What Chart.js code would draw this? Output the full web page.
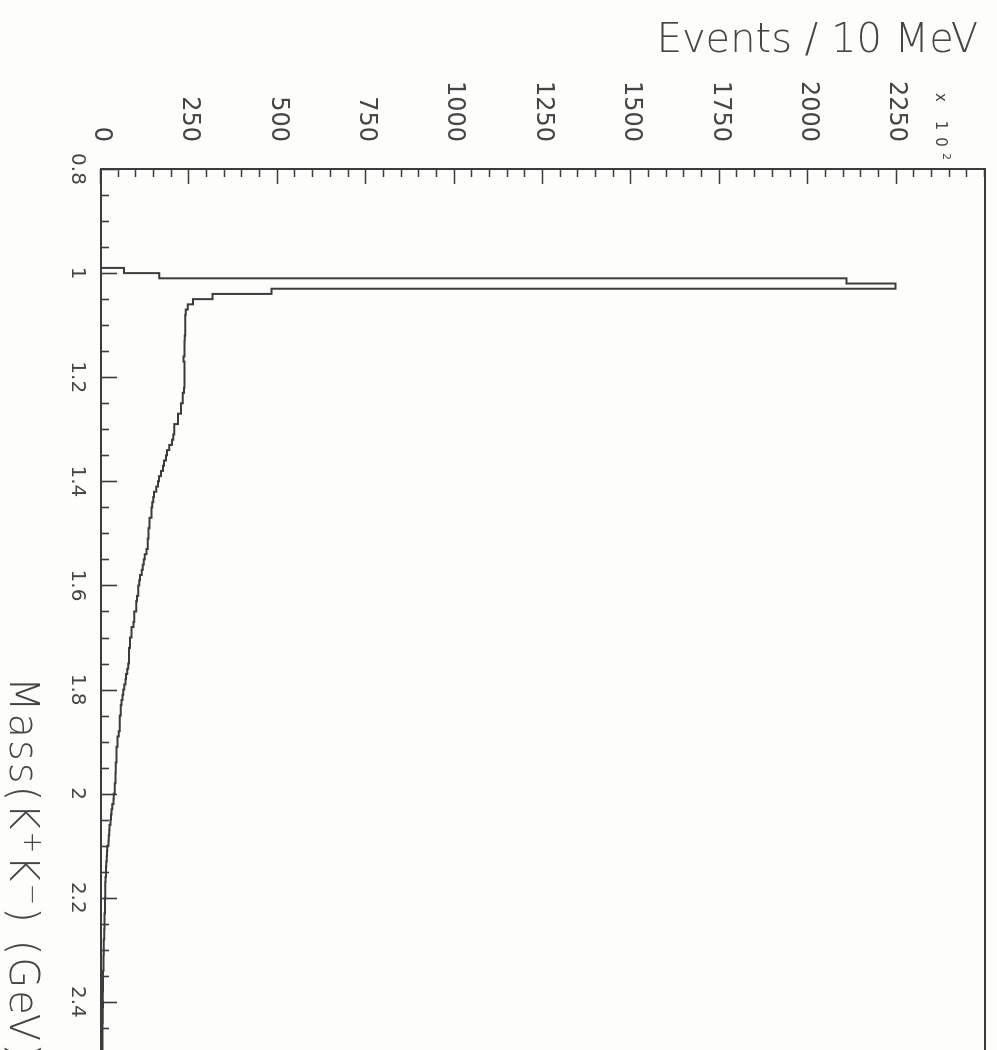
<!DOCTYPE html>
<html>
<head>
<meta charset="utf-8">
<script src="https://cdn.jsdelivr.net/npm/chart.js@4.4.1/dist/chart.umd.min.js"></script>
<style>
  html, body { margin: 0; padding: 0; background: #fdfdfb; overflow: hidden; }
  body { width: 997px; height: 1050px; position: relative; }
  /* plot is laid out with mass along x, then turned a quarter turn clockwise */
  #massPlot {
    position: absolute; left: 0; top: 0;
    transform-origin: 0 0;
    transform: translate(997px, 0) rotate(90deg);
  }
</style>
</head>
<body>
<canvas id="massPlot" width="1100" height="997"></canvas>
<script>
// K+K- invariant mass, 10 MeV bins, first bin starts at 0.99 GeV
const binStart = 0.99;
const binWidth = 0.01;
const events = [
  65, 165, 2108, 2247, 482, 315, 260, 245, 240, 238,
  238, 238, 238, 237, 236, 236, 236, 233, 236, 236,
  236, 236, 236, 235, 231, 231, 226, 226, 218, 218,
  207, 207, 204, 201, 193, 187, 184, 178, 175, 170,
  164, 161, 156, 150, 148, 145, 143, 143, 137, 137,
  134, 134, 132, 132, 129, 124, 121, 118, 115, 110,
  108, 105, 105, 102, 100, 100, 94, 94, 92, 86,
  86, 82, 82, 79, 79, 79, 77, 74, 71, 69,
  66, 63, 61, 58, 56, 56, 53, 53, 53, 50,
  47, 47, 44, 44, 44, 42, 42, 41, 41, 39,
  39, 36, 35, 32, 30, 28, 27, 24, 23, 22,
  21, 18, 17, 16, 15, 14, 14, 13, 12, 12,
  12, 11, 11, 11, 10, 10, 10, 9, 9, 8,
  8, 8, 7, 7, 7, 6, 6, 6, 6, 5,
  5, 6, 5, 5, 5, 4, 4, 4, 4, 4,
  4
];

const massLabels = [0.8, 1, 1.2, 1.4, 1.6, 1.8, 2, 2.2, 2.4];
const eventLabels = [0, 250, 500, 750, 1000, 1250, 1500, 1750, 2000, 2250];

const ink = '#3c3c3c';
const textInk = '#454545';
const font = '"DejaVu Sans", sans-serif';

// step outline: points sit on the low edge of each bin
const points = [{ x: binStart, y: 0 }];
events.forEach((n, i) => {
  points.push({ x: +(binStart + i * binWidth).toFixed(2), y: n });
});
points.push({ x: +(binStart + events.length * binWidth).toFixed(2), y: events[events.length - 1] });

const isLabel = (list, v) => list.find(m => Math.abs(m - v) < 1e-6);

// write pieces one after another, with some raised and smaller
function writeRuns(ctx, runs, x, y) {
  runs.forEach(r => {
    ctx.font = '300 ' + r.size + 'px ' + font;
    ctx.fillText(r.text, x, y - (r.rise || 0));
    x += ctx.measureText(r.text).width;
  });
}

// frame, inward tick marks and the free text
const decorations = {
  id: 'decorations',
  afterDraw(chart) {
    const { ctx, chartArea: a, scales: { x, y } } = chart;
    ctx.save();
    ctx.strokeStyle = ink;
    ctx.lineWidth = 2;
    ctx.strokeRect(a.left, a.top, a.right - a.left, a.bottom - a.top);

    ctx.lineWidth = 1.6;
    ctx.beginPath();
    y.ticks.forEach(t => {
      const py = Math.round(y.getPixelForValue(t.value)) + 0.5;
      const len = isLabel(eventLabels, t.value) !== undefined ? 15 : 8;
      ctx.moveTo(a.left, py);
      ctx.lineTo(a.left + len, py);
    });
    x.ticks.forEach(t => {
      const px = Math.round(x.getPixelForValue(t.value)) + 0.5;
      const len = isLabel(massLabels, t.value) !== undefined ? 16 : 8;
      ctx.moveTo(px, a.bottom);
      ctx.lineTo(px, a.bottom - len);
    });
    ctx.stroke();

    ctx.fillStyle = textInk;
    ctx.textBaseline = 'alphabetic';
    ctx.textAlign = 'left';

    // y title, running up the left side
    ctx.save();
    ctx.font = '300 40px ' + font;
    ctx.textAlign = 'right';
    ctx.translate(a.left - 117, a.top + 7);
    ctx.rotate(-Math.PI / 2);
    ctx.fillText('Events / 10 MeV', 0, 0);
    ctx.restore();

    // exponent of the event scale
    ctx.save();
    ctx.letterSpacing = '7px';
    ctx.font = '15px ' + font;
    ctx.fillText('x 10', a.left - 76, a.top + 49);
    ctx.letterSpacing = '0px';
    ctx.font = '11px ' + font;
    ctx.fillText('2', a.left - 16, a.top + 42);
    ctx.restore();

    // x title
    ctx.save();
    ctx.letterSpacing = '2px';
    writeRuns(ctx, [
      { text: 'Mass(K', size: 40 },
      { text: '+', size: 26, rise: 14 },
      { text: 'K', size: 40 },
      { text: '\u2212', size: 26, rise: 14 },
      { text: ') (GeV)', size: 40 }
    ], a.left + 508, a.bottom + 91);
    ctx.restore();
    ctx.restore();
  }
};

new Chart(document.getElementById('massPlot'), {
  type: 'line',
  data: {
    datasets: [{
      data: points,
      stepped: 'before',
      borderColor: ink,
      borderWidth: 2,
      pointRadius: 0,
      fill: false,
      tension: 0
    }]
  },
  options: {
    responsive: false,
    animation: false,
    devicePixelRatio: 1,
    layout: { padding: { top: 12, right: 20, left: 0, bottom: 0 } },
    plugins: { legend: { display: false }, tooltip: { enabled: false } },
    scales: {
      x: {
        type: 'linear',
        position: 'bottom',
        min: 0.8,
        max: 2.55,
        grid: { display: false, drawTicks: false },
        border: { display: false },
        ticks: {
          stepSize: 0.05,
          autoSkip: false,
          maxRotation: 0,
          minRotation: 0,
          padding: 12,
          color: textInk,
          font: { family: font, size: 20 },
          callback: v => {
            const m = isLabel(massLabels, v);
            return m === undefined ? '' : String(m);
          }
        },
        afterFit: s => {
          s.height = 101;
          s.paddingLeft = 0;
          s.paddingRight = 0;
        }
      },
      y: {
        type: 'linear',
        position: 'left',
        min: 0,
        max: 2500,
        grid: { display: false, drawTicks: false },
        border: { display: false },
        ticks: {
          stepSize: 50,
          autoSkip: false,
          padding: 27,
          color: textInk,
          font: { family: font, size: 24 },
          callback: v => {
            const m = isLabel(eventLabels, v);
            return m === undefined ? '' : String(m);
          }
        },
        afterFit: s => {
          s.width = 169;
          s.paddingTop = 0;
          s.paddingBottom = 0;
        }
      }
    }
  },
  plugins: [decorations]
});
</script>
</body>
</html>
